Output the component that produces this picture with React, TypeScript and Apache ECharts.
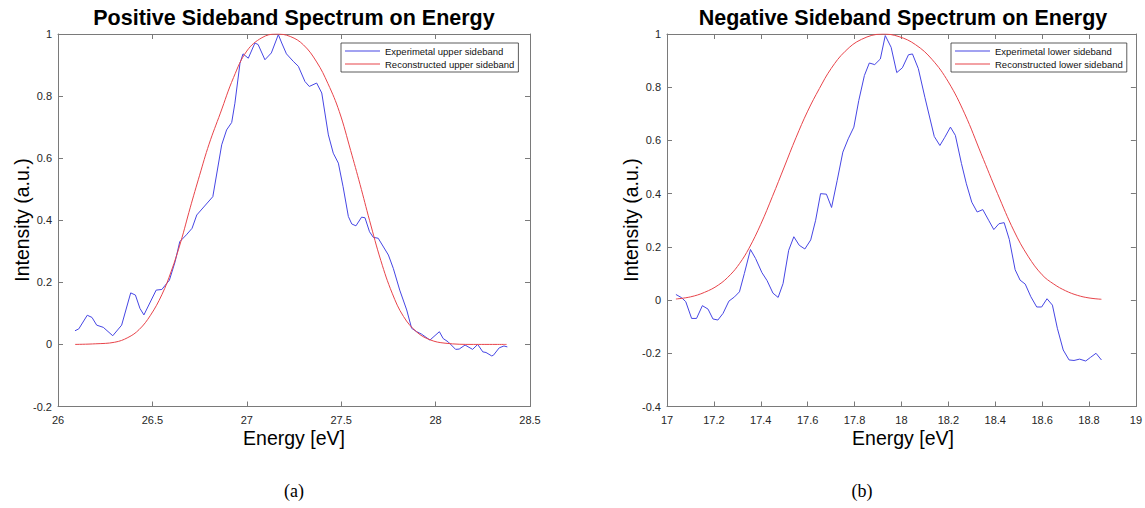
import React, { useEffect, useRef } from "react";
import * as echarts from "echarts";

// ---------- Data ----------
const posExpX = [26.09, 26.11, 26.155, 26.18, 26.205, 26.24, 26.29, 26.337, 26.385, 26.41, 26.434, 26.455, 26.52, 26.55, 26.59, 26.62, 26.645, 26.68, 26.71, 26.735, 26.82, 26.867, 26.893, 26.92, 26.937, 26.964, 26.98, 27.008, 27.043, 27.06, 27.096, 27.13, 27.167, 27.185, 27.21, 27.246, 27.273, 27.308, 27.331, 27.37, 27.397, 27.432, 27.458, 27.485, 27.51, 27.538, 27.556, 27.578, 27.608, 27.626, 27.65, 27.67, 27.696, 27.75, 27.776, 27.81, 27.847, 27.873, 27.9, 27.926, 27.97, 28.02, 28.04, 28.067, 28.106, 28.125, 28.156, 28.196, 28.223, 28.25, 28.267, 28.297, 28.306, 28.337, 28.362, 28.38];
const posExpY = [0.044, 0.05, 0.094, 0.087, 0.062, 0.055, 0.028, 0.062, 0.166, 0.159, 0.116, 0.095, 0.175, 0.177, 0.207, 0.266, 0.331, 0.353, 0.374, 0.417, 0.476, 0.643, 0.691, 0.715, 0.777, 0.906, 0.936, 0.922, 0.971, 0.966, 0.917, 0.939, 0.998, 0.971, 0.936, 0.912, 0.896, 0.847, 0.831, 0.842, 0.81, 0.675, 0.616, 0.584, 0.508, 0.412, 0.388, 0.382, 0.41, 0.408, 0.363, 0.345, 0.342, 0.288, 0.245, 0.175, 0.111, 0.052, 0.041, 0.033, 0.014, 0.041, 0.019, 0.008, -0.016, -0.015, -0.002, -0.016, 0.0, -0.024, -0.026, -0.037, -0.035, -0.011, -0.005, -0.008];

const posRecX = [26.09, 26.2, 26.3, 26.37, 26.43, 26.49, 26.55, 26.6, 26.65, 26.7, 26.75, 26.8, 26.86, 26.93, 27.0, 27.08, 27.155, 27.23, 27.3, 27.37, 27.43, 27.49, 27.55, 27.6, 27.65, 27.71, 27.77, 27.83, 27.9, 27.97, 28.05, 28.2, 28.376];
const posRecY = [0.0, 0.002, 0.007, 0.022, 0.048, 0.094, 0.16, 0.236, 0.33, 0.44, 0.545, 0.645, 0.745, 0.86, 0.945, 0.988, 1.0, 0.992, 0.965, 0.91, 0.84, 0.75, 0.625, 0.515, 0.4, 0.27, 0.165, 0.09, 0.04, 0.015, 0.004, 0.0, 0.0];

const negExpX = [17.038, 17.062, 17.08, 17.105, 17.126, 17.151, 17.175, 17.196, 17.217, 17.239, 17.264, 17.288, 17.309, 17.33, 17.356, 17.378, 17.405, 17.427, 17.452, 17.474, 17.495, 17.519, 17.541, 17.564, 17.588, 17.613, 17.634, 17.655, 17.68, 17.702, 17.726, 17.75, 17.773, 17.797, 17.818, 17.842, 17.863, 17.886, 17.91, 17.931, 17.956, 17.98, 18.004, 18.03, 18.047, 18.072, 18.1, 18.14, 18.164, 18.185, 18.209, 18.23, 18.256, 18.277, 18.3, 18.323, 18.347, 18.372, 18.394, 18.416, 18.438, 18.46, 18.485, 18.506, 18.528, 18.552, 18.577, 18.598, 18.621, 18.644, 18.665, 18.69, 18.715, 18.736, 18.76, 18.786, 18.807, 18.83, 18.853];
const negExpY = [0.021, 0.009, -0.006, -0.069, -0.069, -0.021, -0.034, -0.071, -0.075, -0.05, -0.004, 0.012, 0.031, 0.1, 0.19, 0.156, 0.103, 0.073, 0.026, 0.01, 0.062, 0.187, 0.238, 0.206, 0.192, 0.226, 0.3, 0.4, 0.398, 0.348, 0.45, 0.556, 0.606, 0.65, 0.75, 0.844, 0.891, 0.885, 0.906, 0.994, 0.95, 0.855, 0.873, 0.922, 0.925, 0.87, 0.762, 0.615, 0.581, 0.612, 0.65, 0.619, 0.513, 0.437, 0.368, 0.331, 0.34, 0.3, 0.265, 0.287, 0.291, 0.228, 0.114, 0.075, 0.06, 0.0125, -0.026, -0.026, 0.005, -0.019, -0.106, -0.1875, -0.225, -0.227, -0.222, -0.229, -0.215, -0.2, -0.225];

const negRecX = [17.038, 17.1, 17.16, 17.22, 17.27, 17.31, 17.35, 17.4, 17.45, 17.5, 17.55, 17.6, 17.65, 17.7, 17.76, 17.83, 17.92, 17.99, 18.06, 18.13, 18.2, 18.27, 18.34, 18.41, 18.48, 18.54, 18.6, 18.65, 18.7, 18.75, 18.8, 18.853];
const negRecY = [0.004, 0.012, 0.029, 0.057, 0.095, 0.138, 0.195, 0.285, 0.39, 0.5, 0.61, 0.71, 0.795, 0.87, 0.935, 0.98, 1.0, 0.99, 0.96, 0.905, 0.82, 0.7, 0.55, 0.4, 0.26, 0.165, 0.095, 0.06, 0.035, 0.018, 0.008, 0.003];

const posXTicks = { min: 26, max: 28.5, interval: 0.5 };
const negXTicks = { min: 17, max: 19, interval: 0.2 };
const posYTicks = { min: -0.2, max: 1, interval: 0.2 };
const negYTicks = { min: -0.4, max: 1, interval: 0.2 };

const titles = ["Positive Sideband Spectrum on Energy", "Negative Sideband Spectrum on Energy"];
const seriesNames = [
  "Experimetal upper sideband",
  "Reconstructed upper sideband",
  "Experimetal lower sideband",
  "Reconstructed lower sideband",
];
const captions = ["(a)", "(b)"];

const zip = (xs: number[], ys: number[]) => xs.map((x, i) => [x, ys[i]]);

const FONT = "'Liberation Sans', Arial, Helvetica, sans-serif";
const AXIS = "#7a7a7a";
const LABEL = "#262626";
const BLUE = "#4646e4";
const RED = "#e8444a";

const GRIDS = [
  { left: 58, top: 34, width: 472, height: 372.5 },
  { left: 667, top: 34, width: 472, height: 372.5 },
];

function makeX(gridIndex: number, t: any, top: boolean) {
  return {
    type: "value",
    gridIndex,
    position: top ? "top" : "bottom",
    min: t.min,
    max: t.max,
    interval: t.interval,
    axisLine: { show: true, onZero: false, lineStyle: { color: AXIS, width: 1 } },
    axisTick: { show: true, inside: true, length: 5, lineStyle: { color: AXIS } },
    axisLabel: {
      show: !top,
      color: LABEL,
      fontSize: 11,
      fontFamily: FONT,
      margin: 8,
      showMinLabel: true,
      showMaxLabel: true,
    },
    splitLine: { show: false },
  };
}

function makeY(gridIndex: number, t: any, right: boolean) {
  return {
    type: "value",
    gridIndex,
    position: right ? "right" : "left",
    min: t.min,
    max: t.max,
    interval: t.interval,
    axisLine: { show: true, onZero: false, lineStyle: { color: AXIS, width: 1 } },
    axisTick: { show: true, inside: true, length: 5, lineStyle: { color: AXIS } },
    axisLabel: {
      show: !right,
      color: LABEL,
      fontSize: 11,
      fontFamily: FONT,
      margin: 6,
      showMinLabel: true,
      showMaxLabel: true,
    },
    splitLine: { show: false },
  };
}

function makeLegend(left: number, data: string[]) {
  return {
    show: true,
    orient: "vertical",
    left,
    top: 43,
    data,
    icon: "rect",
    itemWidth: 35,
    itemHeight: 1.2,
    itemGap: 3,
    padding: [3, 4, 3, 4],
    borderColor: "#333",
    borderWidth: 0.8,
    backgroundColor: "#fff",
    textStyle: { fontSize: 9.5, color: "#111", fontFamily: FONT },
  };
}

export default function App() {
  const ref = useRef<HTMLDivElement>(null);

  useEffect(() => {
    if (!ref.current) return;
    const chart = echarts.init(ref.current, undefined, { renderer: "svg" });

    const lineSeries = (name: string, data: number[][], idx: number, color: string, smooth: boolean) => ({
      type: "line",
      name,
      data,
      xAxisIndex: idx * 2,
      yAxisIndex: idx * 2,
      showSymbol: false,
      symbol: "none",
      smooth: smooth ? 0.4 : false,
      lineStyle: { color, width: 1 },
      itemStyle: { color },
      z: color === RED ? 3 : 2,
    });

    const textEl = (text: string, x: number, y: number, font: string, rotation = 0) => ({
      type: "text",
      x,
      y,
      rotation,
      style: { text, font, fill: "#000", align: "center", verticalAlign: "middle" },
    });

    const centers = GRIDS.map((g) => g.left + g.width / 2);

    const option: any = {
      animation: false,
      backgroundColor: "#fff",
      grid: GRIDS,
      xAxis: [
        makeX(0, posXTicks, false),
        makeX(0, posXTicks, true),
        makeX(1, negXTicks, false),
        makeX(1, negXTicks, true),
      ],
      yAxis: [
        makeY(0, posYTicks, false),
        makeY(0, posYTicks, true),
        makeY(1, negYTicks, false),
        makeY(1, negYTicks, true),
      ],
      legend: [
        makeLegend(341, [seriesNames[0], seriesNames[1]]),
        makeLegend(951, [seriesNames[2], seriesNames[3]]),
      ],
      series: [
        lineSeries(seriesNames[0], zip(posExpX, posExpY), 0, BLUE, false),
        lineSeries(seriesNames[1], zip(posRecX, posRecY), 0, RED, true),
        lineSeries(seriesNames[2], zip(negExpX, negExpY), 1, BLUE, false),
        lineSeries(seriesNames[3], zip(negRecX, negRecY), 1, RED, true),
      ],
      graphic: [
        textEl(titles[0], centers[0], 18, `bold 21.5px ${FONT}`),
        textEl(titles[1], centers[1], 18, `bold 21.5px ${FONT}`),
        textEl("Energy [eV]", centers[0], 438, `19.5px ${FONT}`),
        textEl("Energy [eV]", centers[1], 438, `19.5px ${FONT}`),
        textEl("Intensity (a.u.)", 22, 220, `19.5px ${FONT}`, Math.PI / 2),
        textEl("Intensity (a.u.)", 631, 220, `19.5px ${FONT}`, Math.PI / 2),
        textEl(captions[0], centers[0], 491, `18px 'Liberation Serif', 'Times New Roman', serif`),
        textEl(captions[1], centers[1] - 41, 491, `18px 'Liberation Serif', 'Times New Roman', serif`),
      ],
    };

    chart.setOption(option);
    return () => chart.dispose();
  }, []);

  return <div ref={ref} style={{ width: 1145, height: 508, position: "absolute", left: 0, top: 0 }} />;
}
